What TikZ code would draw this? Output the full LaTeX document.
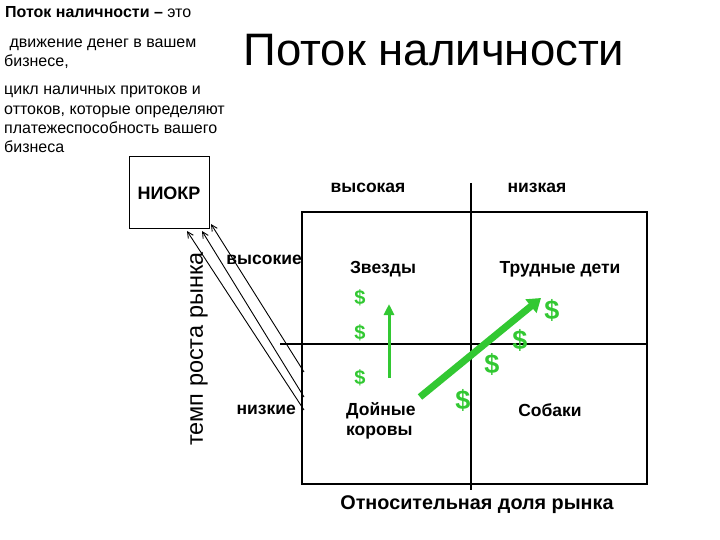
\documentclass[tikz,border=0pt]{standalone}
\usepackage{fontspec}
\setmainfont{Liberation Sans}
\usetikzlibrary{arrows.meta}
\definecolor{dgreen}{RGB}{50,200,50}
\begin{document}
\begin{tikzpicture}[x=1pt,y=-1pt,
  gridline/.style={line width=2pt},
  lbl/.style={font=\fontsize{17.5}{20}\selectfont\bfseries, inner sep=0pt},
  side/.style={font=\fontsize{16}{19}\selectfont, inner sep=0pt, anchor=base west},
  dollar/.style={text=dgreen, font=\fontsize{20}{20}\selectfont\bfseries, inner sep=0pt},
  bigdollar/.style={text=dgreen, font=\fontsize{27}{27}\selectfont\bfseries, inner sep=0pt},
  flow/.style={line width=0.9pt, -{Straight Barb[length=6pt,width=6pt]}},
  greenarrow/.style={draw=dgreen}
]
\useasboundingbox (0,0) rectangle (720,540);

% left text
\node[side] (def) at (5,18) {\textbf{Поток наличности –} это};
\node[side] (d1a) at (5,48) {\ движение денег в вашем};
\node[side] (d1b) at (4,67) {бизнесе,};
\node[side] (d2a) at (4,95) {цикл наличных притоков и};
\node[side] (d2b) at (4,114.5) {оттоков, которые определяют};
\node[side] (d2c) at (4,134) {платежеспособность вашего};
\node[side] (d2d) at (4,153) {бизнеса};

% title
\node[inner sep=0pt, font=\fontsize{45.5}{46}\selectfont] (title) at (434,50) {Поток наличности};

% grid
\draw[gridline] (302,212) rectangle (647,484);
\draw[gridline] (280,344) -- (647,344);
\draw[gridline] (471,183) -- (471,490);

% header labels
\node[lbl] (hi) at (368,188) {высокая};
\node[lbl] (lo) at (537,188) {низкая};
\node[lbl, anchor=east] (hig) at (302,260) {высокие};
\node[lbl, anchor=east] (low) at (296,410) {низкие};
\node[inner sep=0pt, font=\fontsize{23.5}{24}\selectfont, rotate=90] (rate) at (199,349) {темп роста рынка};
\node[lbl, font=\fontsize{19.8}{22}\selectfont\bfseries] (share) at (477,505) {Относительная доля рынка};

% quadrant labels
\node[lbl] (stars) at (383,269) {Звезды};
\node[lbl] (qm) at (560,269) {Трудные дети};
\node[lbl, anchor=north west, align=left] (cows) at (346,402) {Дойные\\коровы};
\node[lbl] (dogs) at (550,410) {Собаки};

% NIOKR box
\node[draw, line width=1pt, minimum width=80pt, minimum height=72pt, font=\fontsize{18}{20}\selectfont\bfseries] (niokr) at (169,193) {НИОКР};

% flows to NIOKR
\coordinate (s1) at (304,372); \coordinate (e1) at (211,224);
\coordinate (s2) at (304,397); \coordinate (e2) at (202,231);
\coordinate (s3) at (304,410); \coordinate (e3) at (187,231);
\draw[flow] (s1) -- (e1);
\draw[flow] (s2) -- (e2);
\draw[flow] (s3) -- (e3);

% dollars
\node[dollar] (dl1) at (360,298) {\$};
\node[dollar] (dl2) at (360,333) {\$};
\node[dollar] (dl3) at (360,378) {\$};
\node[bigdollar] (dl4) at (463,400) {\$};
\node[bigdollar] (dl5) at (492,364) {\$};
\node[bigdollar] (dl6) at (520,340) {\$};
\node[bigdollar] (dl7) at (552,310) {\$};

% green arrows
\coordinate (va) at (389,378); \coordinate (vb) at (389,304);
\draw[greenarrow, line width=3pt, -{Triangle[length=11pt,width=10pt]}] (va) -- (vb);
\coordinate (da) at (420,397); \coordinate (db) at (541,298);
\draw[greenarrow, line width=7pt, -{Triangle[length=13pt,width=17pt]}] (da) -- (db);
\end{tikzpicture}
\end{document}
